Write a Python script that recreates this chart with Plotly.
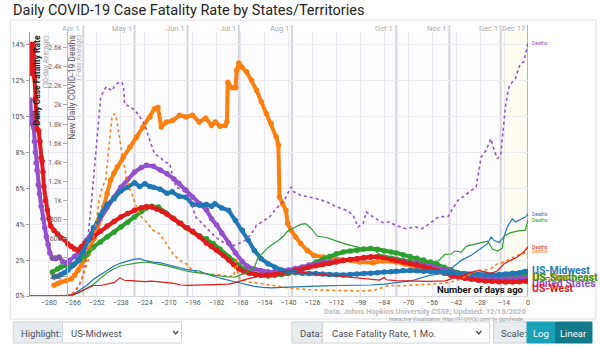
import plotly.graph_objects as go

W, H = 600, 346
L, R, T, B = 22, 72, 32, 50
PW = W - L - R
PH = H - T - B

def fx(px):
    return (px - L) / PW

def fy(py):
    return (H - B - py) / PH

# ---------------- data (days ago, value) ----------------
west_days = [-291, -290.5, -290, -289.5, -289, -288.5, -288, -287.5, -287, -286, -285.3, -284.6, -284, -283.5, -283, -282, -281, -280, -279, -277, -275, -273, -271, -269, -267, -265, -263, -261, -259, -257, -254, -250, -246, -242, -238, -234, -230, -226, -223, -220, -217, -214, -211, -207, -203, -199, -196, -192, -188, -185, -182, -178, -175, -172, -169, -166, -163, -159, -156, -152, -148, -144, -140, -136, -132, -128, -124, -120, -116, -112, -108, -104, -100, -96, -92, -88, -84, -80, -77, -73, -69, -65, -61, -57, -53, -49, -45, -41, -37, -33, -29, -25, -21, -17, -13, -9, -5, -1, 0]
west_cfr = [14.0, 14.0, 12.4, 14.0, 13.8, 12.2, 11.0, 10.0, 9.3, 9.2, 8.6, 7.7, 7.5, 6.9, 6.1, 5.3, 4.8, 4.3, 3.9, 3.65, 3.45, 3.25, 3.15, 2.9, 2.75, 2.62, 2.55, 2.75, 2.95, 3.1, 3.3, 3.6, 3.9, 4.15, 4.4, 4.6, 4.77, 4.92, 4.98, 4.95, 4.85, 4.72, 4.55, 4.3, 4.05, 3.8, 3.6, 3.3, 2.95, 2.75, 2.55, 2.25, 2.0, 1.75, 1.5, 1.35, 1.27, 1.2, 1.15, 1.17, 1.2, 1.27, 1.33, 1.42, 1.5, 1.6, 1.68, 1.76, 1.83, 1.9, 1.97, 2.03, 2.08, 2.14, 2.18, 2.18, 2.14, 2.05, 1.98, 1.9, 1.82, 1.72, 1.62, 1.52, 1.4, 1.28, 1.16, 1.06, 0.99, 0.93, 0.88, 0.84, 0.82, 0.8, 0.78, 0.78, 0.8, 0.82, 0.83]

se_days = [-278, -275, -273, -269, -265, -262, -258, -254, -250, -246, -242, -238, -234, -230, -226, -223, -220, -216, -212, -208, -204, -200, -196, -192, -188, -184, -180, -175, -172, -169, -166, -163, -159, -156, -152, -148, -144, -140, -136, -132, -128, -124, -120, -116, -112, -108, -104, -100, -96, -92, -88, -84, -80, -77, -73, -69, -65, -61, -57, -53, -49, -45, -41, -37, -33, -29, -25, -21, -17, -13, -9, -5, 0]
se_cfr = [1.34, 1.5, 1.62, 1.71, 1.78, 2.0, 2.3, 2.73, 3.0, 3.29, 3.55, 3.84, 4.1, 4.4, 4.7, 4.9, 5.0, 4.95, 4.65, 4.35, 4.05, 3.8, 3.57, 3.35, 3.19, 2.92, 2.6, 2.17, 1.95, 1.71, 1.5, 1.34, 1.2, 1.15, 1.12, 1.15, 1.2, 1.25, 1.4, 1.52, 1.7, 1.9, 2.05, 2.2, 2.35, 2.45, 2.5, 2.55, 2.62, 2.64, 2.6, 2.5, 2.45, 2.4, 2.3, 2.2, 2.1, 2.0, 1.9, 1.75, 1.6, 1.45, 1.3, 1.22, 1.15, 1.1, 1.08, 1.06, 1.06, 1.08, 1.1, 1.12, 1.15]

us_days = [-291, -290.5, -290, -289.5, -289, -288.5, -288, -287.5, -287, -286.3, -285.5, -284.5, -283.5, -282.5, -281.5, -280.5, -279.5, -278, -276, -274, -272, -270, -268, -265, -262, -258, -254, -250, -246, -242, -238, -234, -230, -226, -223, -219, -215, -211, -207, -204, -200, -196, -192, -188, -185, -182, -179, -175, -171, -167, -164, -160, -156, -152, -148, -144, -140, -136, -132, -128, -124, -120, -116, -112, -108, -104, -100, -96, -92, -88, -84, -80, -77, -73, -69, -65, -61, -57, -53, -49, -45, -41, -37, -33, -29, -25, -21, -17, -13, -9, -5, -1, 0]
us_cfr = [10.9, 10.2, 9.6, 9.9, 9.4, 8.6, 8.0, 7.4, 7.0, 6.2, 5.7, 5.0, 4.3, 3.8, 3.3, 2.85, 2.4, 2.1, 2.08, 2.17, 1.92, 1.85, 1.98, 2.2, 2.5, 3.1, 3.8, 4.4, 4.96, 5.5, 6.05, 6.5, 6.9, 7.15, 7.28, 7.22, 7.02, 6.8, 6.52, 6.26, 5.9, 5.5, 5.15, 4.8, 4.3, 3.95, 3.5, 2.95, 2.4, 1.92, 1.65, 1.5, 1.4, 1.35, 1.34, 1.38, 1.45, 1.53, 1.62, 1.72, 1.8, 1.86, 1.9, 1.95, 1.99, 2.03, 2.07, 2.12, 2.16, 2.17, 2.15, 2.1, 2.05, 1.99, 1.92, 1.85, 1.77, 1.68, 1.58, 1.46, 1.35, 1.24, 1.14, 1.07, 1.02, 1.0, 0.98, 0.97, 0.96, 0.96, 0.97, 0.99, 1.0]

mw_days = [-277, -275, -273, -271, -269, -266, -263, -260, -257, -254, -250, -246, -242, -238, -234, -230, -227, -224, -221, -219, -215, -211, -208, -204, -200, -196, -192, -188, -185, -183, -179, -175, -171, -167, -163.5, -160, -156, -152, -148, -144, -140, -136, -132, -128, -124, -120, -116, -112, -108, -104, -100, -96, -92, -88, -84, -80, -77, -73, -69, -65, -61, -57, -53, -49, -45, -41, -37, -33, -29, -25, -21, -17, -13, -9, -5, -2, 0]
mw_cfr = [1.06, 1.1, 1.2, 1.3, 1.43, 1.7, 1.99, 2.5, 3.1, 3.8, 4.5, 5.1, 5.42, 5.85, 6.05, 6.3, 6.1, 6.25, 6.1, 6.05, 5.95, 5.72, 5.8, 5.55, 5.5, 5.1, 5.05, 5.1, 5.0, 5.14, 4.9, 4.77, 4.21, 3.66, 3.1, 2.54, 2.08, 1.8, 1.6, 1.45, 1.36, 1.3, 1.27, 1.25, 1.25, 1.22, 1.2, 1.18, 1.17, 1.2, 1.22, 1.25, 1.27, 1.3, 1.33, 1.35, 1.38, 1.42, 1.42, 1.4, 1.38, 1.36, 1.34, 1.3, 1.27, 1.24, 1.22, 1.2, 1.18, 1.17, 1.18, 1.2, 1.22, 1.26, 1.3, 1.36, 1.38]

ne_days = [-277, -275, -273, -270, -267, -265, -263, -261, -259.5, -257.5, -255.6, -253.7, -251.8, -250, -248, -246, -244, -242, -240, -236.5, -232.6, -228.8, -225, -221, -218.3, -216.3, -214.4, -211.4, -207.6, -203.7, -199.9, -196.1, -192.2, -188.4, -185, -182.7, -180, -177, -176, -175.5, -173.2, -170.9, -170.3, -169, -167.4, -164.5, -161.6, -158.7, -155.9, -153, -150.1, -147.2, -145.9, -145.3, -143.4, -141.5, -140.5, -138.6, -135.8, -132.9, -129, -125.2, -119.4, -113.7, -107.9, -98.3, -90.6, -85, -77, -72, -67.7, -62, -58, -53, -48.5, -44, -39, -34, -29, -24, -19, -14, -10, -5, 0]
ne_cfr = [0.6, 0.7, 0.78, 0.85, 0.96, 1.15, 1.43, 1.7, 1.99, 2.35, 2.73, 3.2, 3.66, 4.3, 4.96, 5.7, 6.44, 6.85, 7.2, 7.74, 8.29, 8.85, 9.41, 9.97, 10.43, 10.5, 9.41, 9.69, 9.78, 10.06, 9.97, 10.06, 9.69, 9.9, 9.5, 9.69, 9.45, 9.5, 9.7, 11.9, 11.6, 11.6, 12.57, 12.97, 12.75, 12.48, 12.01, 11.46, 10.81, 10.16, 9.6, 8.85, 8.39, 5.51, 5.14, 4.77, 4.03, 3.66, 3.29, 2.92, 2.54, 2.26, 2.17, 2.08, 1.99, 1.89, 1.85, 1.95, 1.9, 1.78, 1.62, 1.52, 1.43, 1.33, 1.25, 1.18, 1.15, 1.12, 1.1, 1.08, 1.08, 1.09, 1.1, 1.1, 1.1]

# New daily deaths (7-day average)
us_d_days = [-291, -280, -272, -268, -265, -263, -261, -259, -257.5, -255.6, -253.7, -251.8, -249.8, -248, -246.5, -245, -243.2, -241.5, -240.3, -238.5, -237.5, -236.5, -235.8, -232.6, -229.8, -226.8, -223.9, -221.1, -218.3, -215.3, -212.4, -209.5, -207.6, -205.7, -201.8, -198, -194.2, -190.3, -188.4, -182.7, -176.9, -171.2, -165.4, -161.6, -158.7, -155.9, -151.1, -146.3, -142.4, -138.6, -136.7, -132.9, -128.1, -123.3, -117.5, -111.8, -106, -102.2, -99.3, -96.4, -94.5, -92.5, -90.6, -84.9, -81, -77.3, -71.5, -65.8, -62, -56.2, -52.4, -46.6, -44.7, -40.9, -37, -33.2, -30.3, -27.4, -24.5, -21.7, -19.8, -17.8, -15.9, -13, -11.1, -9.2, -7.3, -5.9, -4.4, -2.5, -1.1, 0]
us_deaths = [0, 0, 2, 10, 40, 90, 160, 300, 550, 900, 1280, 1700, 2080, 2150, 2190, 2170, 2150, 2200, 2225, 2235, 2240, 2200, 2010, 1980, 1945, 1875, 1790, 1630, 1490, 1456, 1403, 1386, 1246, 1141, 1106, 1037, 827, 757, 722, 617, 548, 530, 583, 652, 740, 775, 827, 932, 1002, 1141, 1089, 1054, 1037, 1019, 984, 932, 897, 845, 722, 760, 880, 850, 827, 768, 775, 740, 705, 722, 705, 775, 827, 834, 897, 1002, 1054, 1106, 1141, 1456, 1526, 1648, 1526, 1438, 1490, 2014, 2188, 2240, 2277, 2363, 2433, 2450, 2572, 2650]

ne_d_days = [-291, -278, -270, -266, -263, -261, -259.5, -257.5, -255.6, -254, -252.7, -250.8, -248.8, -246.9, -245.1, -243.2, -241.8, -240.3, -238.3, -236.5, -234.5, -231.6, -228.8, -225.9, -223, -219.1, -215.3, -211.4, -207.6, -203.7, -199.9, -196.1, -192.2, -188, -182.7, -176, -172, -170.5, -169.5, -168.3, -163.5, -155.9, -146.3, -136.7, -127.1, -117.5, -107.9, -98.3, -90, -86.8, -81, -77.3, -67.7, -58.1, -48.5, -42.7, -38.9, -33.2, -29.4, -25.5, -21.7, -17.8, -14, -10.2, -6.3, -2.5, 0]
ne_deaths = [0, 0, 5, 30, 100, 170, 244, 340, 454, 600, 722, 1002, 1141, 1211, 1526, 1875, 1910, 1840, 1595, 1421, 1211, 1071, 932, 827, 775, 687, 652, 548, 443, 373, 338, 269, 240, 230, 225, 210, 205, 400, 220, 181, 146, 129, 101, 77, 66, 59, 52, 52, 60, 77, 112, 105, 112, 122, 136, 157, 181, 234, 269, 270, 286, 338, 356, 391, 426, 443, 470]

west_d_days = [-291, -270, -265, -262, -258, -254, -250, -246, -242, -238.5, -236, -232, -228, -224, -220, -215, -211, -207, -203, -199, -194, -188, -182, -175, -171, -168, -164, -160, -156, -151, -146, -141, -137, -133, -125, -118, -108, -98, -91, -86.8, -84, -83, -77.3, -67.7, -58, -48.5, -42.7, -38.9, -33.2, -29.4, -25.5, -21.7, -17.8, -14, -10.2, -6.3, -2.5, 0]
west_deaths = [0, 0, 20, 45, 80, 110, 110, 125, 140, 190, 165, 160, 153, 150, 155, 150, 140, 132, 115, 112, 115, 115, 118, 125, 140, 160, 180, 195, 215, 235, 248, 262, 255, 248, 232, 215, 197, 180, 170, 167, 195, 170, 160, 153, 153, 158, 188, 213, 248, 265, 255, 235, 265, 338, 373, 408, 461, 513]

mw_d_days = [-291, -272, -266, -262, -258, -254, -250, -246, -242, -238, -234, -230.6, -227, -223, -219, -215.3, -211, -207.6, -204, -200, -196, -192, -188, -184, -179, -175, -171, -167, -163.5, -160, -155, -150, -144, -138, -130, -120, -110, -100, -92, -84, -77, -68, -58, -52, -48.5, -44, -39, -33.2, -29.4, -23.6, -21.7, -19.8, -16.9, -14, -12.1, -9.2, -7.3, -4.4, -1.5, 0]
mw_deaths = [0, 0, 15, 60, 110, 175, 220, 270, 314, 345, 370, 384, 392, 367, 355, 349, 330, 314, 300, 279, 268, 262, 230, 205, 181, 165, 146, 128, 112, 100, 90, 86, 90, 95, 100, 105, 110, 112, 115, 125, 140, 160, 213, 235, 250, 300, 373, 426, 478, 548, 617, 580, 560, 620, 722, 810, 775, 800, 827, 860]

se_d_days = [-291, -272, -266, -262, -258, -253.7, -250, -246, -242, -238.3, -234, -230.6, -227, -223, -219, -215.3, -211, -207.6, -204, -199.9, -196, -192, -188, -182.7, -178, -175, -171, -165, -160, -157.8, -155, -152, -149, -146.3, -143, -140.5, -136.7, -132.9, -130, -127.1, -123.3, -117.5, -111.8, -106, -98.3, -90.6, -86.8, -77.3, -67.7, -58, -52.4, -48.5, -45, -42.7, -39, -36, -29.4, -23.6, -20.7, -17.8, -15, -14, -10.2, -6.3, -1.5, 0]
se_deaths = [0, 0, 10, 40, 80, 125, 185, 244, 285, 314, 330, 342, 350, 356, 345, 331, 315, 297, 280, 262, 250, 244, 234, 216, 205, 199, 200, 244, 300, 401, 450, 506, 545, 575, 625, 680, 715, 750, 757, 715, 628, 610, 575, 540, 506, 489, 436, 401, 367, 349, 367, 436, 440, 471, 460, 523, 550, 575, 489, 471, 500, 628, 663, 680, 690, 800]

x_ticks = list(range(-280, 1, 14))
cfr_ticks = [0, 2, 4, 6, 8, 10, 12, 14]
cfr_labels = ["0%", "2%", "4%", "6%", "8%", "10%", "12%", "14%"]
death_ticks = [200, 400, 600, 800, 1000, 1200, 1400, 1600, 1800, 2000, 2200, 2400, 2600]
death_labels = ["200", "400", "600", "800", "1k", "1.2k", "1.4k", "1.6k", "1.8k", "2k", "2.2k", "2.4k", "2.6k"]
date_days = [-260, -230, -199, -169, -138, -77, -46, -16, 0]
date_labels = ["Apr 1", "May 1", "Jun 1", "Jul 1", "Aug 1", "Oct 1", "Nov 1", "Dec 1", "Dec 17"]

BLUE, ORANGE, GREEN, RED, PURPLE = "#1f77b4", "#ff7f0e", "#2ca02c", "#e31a1c", "#9450cc"

fig = go.Figure()

deaths = [
    (us_d_days, us_deaths, PURPLE, "dot", 1.6),
    (ne_d_days, ne_deaths, ORANGE, "dot", 1.6),
    (mw_d_days, mw_deaths, BLUE, "solid", 1.2),
    (se_d_days, se_deaths, GREEN, "solid", 1.2),
    (west_d_days, west_deaths, RED, "solid", 1.2),
]
for dx, dy, c, dash, w in deaths:
    fig.add_trace(go.Scatter(x=dx, y=dy, yaxis="y2", mode="lines",
                             line=dict(color=c, width=w, dash=dash),
                             showlegend=False, hoverinfo="skip"))

cfrs = [
    (ne_days, ne_cfr, ORANGE),
    (se_days, se_cfr, GREEN),
    (us_days, us_cfr, PURPLE),
    (west_days, west_cfr, RED),
    (mw_days, mw_cfr, BLUE),
]
for dx, dy, c in cfrs:
    fig.add_trace(go.Scatter(x=dx, y=dy, mode="lines+markers",
                             line=dict(color=c, width=4),
                             marker=dict(color=c, size=5.5),
                             showlegend=False, hoverinfo="skip"))

shapes = []
# Dec 1 - Dec 17 shade
shapes.append(dict(type="rect", xref="x", yref="paper", x0=-16, x1=0, y0=0, y1=1,
                   fillcolor="#fdfdf1", line=dict(width=0), layer="below"))
for d in date_days:
    col = "#b7b2c2" if d == 0 else "#d6d5dc"
    shapes.append(dict(type="line", xref="x", yref="paper", x0=d, x1=d, y0=0, y1=fy(25),
                       line=dict(color=col, width=2), layer="below"))
# card border
shapes.append(dict(type="rect", xref="paper", yref="paper", x0=fx(2), x1=fx(597), y0=fy(319), y1=fy(20),
                   line=dict(color="#dedede", width=1)))

def box(x0, x1, fill, line="#ced4da"):
    shapes.append(dict(type="rect", xref="paper", yref="paper", x0=fx(x0), x1=fx(x1), y0=fy(343), y1=fy(322),
                       fillcolor=fill, line=dict(color=line, width=1)))

box(5, 55, "#e9ecef")
box(55, 176, "#ffffff")
box(288, 319, "#e9ecef")
box(319, 489, "#ffffff")
box(493, 527, "#e9ecef")
box(527, 556, "#17a2b8", "#17a2b8")
box(556, 593, "#117a8b", "#117a8b")

def chevron(cx):
    p = "M %f,%f L %f,%f L %f,%f" % (fx(cx - 2.5), fy(331), fx(cx), fy(334), fx(cx + 2.5), fy(331))
    shapes.append(dict(type="path", xref="paper", yref="paper", path=p, line=dict(color="#444", width=1.2)))

chevron(170)
chevron(478)

ann = []

def txt(px, py, s, size, color, xanchor="left", bold=False, angle=0, yanchor="middle"):
    ann.append(dict(xref="paper", yref="paper", x=fx(px), y=fy(py), text=("<b>%s</b>" % s) if bold else s,
                    showarrow=False, xanchor=xanchor, yanchor=yanchor, textangle=angle,
                    font=dict(size=size, color=color)))

txt(3, 10, "Daily COVID-19 Case Fatality Rate by States/Territories", 14.5, "#222")
txt(29.5, 33, "Daily Case Fatality Rate", 8.5, "#222", xanchor="center", bold=True, angle=-90, yanchor="top")
txt(38, 33, "(30-day Average)", 7, "#a0a0a0", xanchor="center", angle=-90, yanchor="top")
txt(64, 33, "New Daily COVID-19 Deaths", 8.5, "#555", xanchor="center", angle=-90, yanchor="top")
txt(71.5, 33, "(7-day Average)", 6.5, "#b0b0b0", xanchor="center", angle=-90, yanchor="top")

for d, lab in zip(date_days, date_labels):
    ann.append(dict(xref="x", yref="paper", x=d, y=fy(29), text=lab, showarrow=False,
                    xanchor="right", xshift=-1, yanchor="middle", font=dict(size=7.5, color="#aaa")))

txt(526, 289, "Number of days ago", 9.5, "#111", xanchor="right", bold=True)
txt(528, 311, "Data: Johns Hopkins University CSSE; Updated: 12/18/2020", 7.5, "#bbb", xanchor="right", bold=True)
txt(528, 318.5, "Interactive Visualization: https://91-DIVOC.com/ by @profwade_", 4.8, "#999", xanchor="right")

# series labels at the right
txt(530, 270, "US-Midwest", 10.5, BLUE, bold=True)
txt(531, 277, "US-Northeast", 10.5, ORANGE, bold=True)
txt(530, 277, "US-Southeast", 10.5, GREEN, bold=True)
txt(530, 283, "United States", 10.5, PURPLE, bold=True)
txt(530, 288.5, "US-West", 10.5, RED, bold=True)

for dx, dy, c, dash, w in deaths:
    ann.append(dict(xref="x", yref="y2", x=dx[-1], y=dy[-1], text="Deaths", showarrow=False,
                    xanchor="left", xshift=2, yanchor="middle", font=dict(size=5, color=c)))

# controls
txt(11, 333, "Highlight:", 9.5, "#495057")
txt(62, 333, "US-Midwest", 9.5, "#495057")
txt(294, 333, "Data:", 9.5, "#495057")
txt(327, 333, "Case Fatality Rate, 1 Mo.", 9.5, "#495057")
txt(499, 333, "Scale:", 9.5, "#495057")
txt(541.5, 333, "Log", 9.5, "#ffffff", xanchor="center")
txt(574.5, 333, "Linear", 9.5, "#ffffff", xanchor="center")

fig.update_layout(
    width=W, height=H,
    margin=dict(l=L, r=R, t=T, b=B),
    paper_bgcolor="white", plot_bgcolor="#fdfcff",
    font=dict(family="Roboto, Open Sans, sans-serif"),
    showlegend=False,
    shapes=shapes, annotations=ann,
    xaxis=dict(range=[-291.1, 0], tickvals=x_ticks, ticks="", showgrid=True, gridcolor="#e9e8f0",
               gridwidth=1, zeroline=False, showline=True, linecolor="#d8d8d8",
               tickfont=dict(size=7, color="#555")),
    yaxis=dict(range=[0, PH / 17.96], tickvals=cfr_ticks, ticktext=cfr_labels, ticks="outside",
               ticklen=3, tickcolor="#999", showgrid=True, gridcolor="#ecebf3", zeroline=False,
               showline=True, linecolor="#999", tickfont=dict(size=7, color="#444")),
    yaxis2=dict(range=[0, PH * 10.47], overlaying="y", anchor="free", position=fx(59.5), side="left",
                tickvals=death_ticks, ticktext=death_labels, ticks="outside", ticklen=4, tickcolor="#aaa",
                showgrid=False, zeroline=False, showline=True, linecolor="#bbb",
                tickfont=dict(size=7, color="#666")),
)

fig.write_html("out.html")
